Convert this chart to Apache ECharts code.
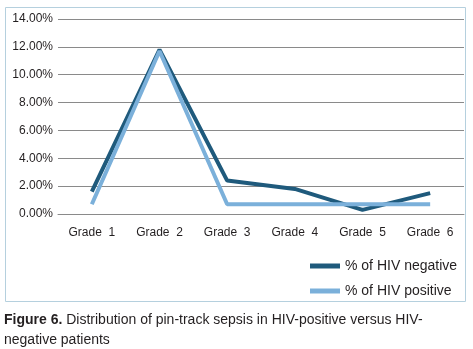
<!DOCTYPE html>
<html>
<head>
<meta charset="utf-8">
<script src="https://cdn.jsdelivr.net/npm/echarts@6/dist/echarts.min.js"></script>
<style>
  html, body { margin: 0; padding: 0; background: #fff; }
  #sepsis-chart { width: 473px; height: 349px; }
</style>
</head>
<body>
<div id="sepsis-chart"></div>
<script>
// values, in percent
const grades = ['Grade  1', 'Grade  2', 'Grade  3', 'Grade  4', 'Grade  5', 'Grade  6']
const hivNegative = [1.6, 11.8, 2.4, 1.8, 0.3, 1.5]
const hivPositive = [0.7, 11.7, 0.7, 0.7, 0.7, 0.7]
const yTicks = [0, 2, 4, 6, 8, 10, 12, 14]

const chart = echarts.init(document.getElementById('sepsis-chart'))
chart.setOption({
  animation: false,
  textStyle: { fontFamily: 'Liberation Sans, Arial, sans-serif' },
  title: {
    left: 4,
    top: 310,
    padding: 0,
    text: '{b|Figure 6.} Distribution of pin-track sepsis in HIV-positive versus HIV-\nnegative patients',
    textStyle: {
      fontSize: 14,
      fontWeight: 'normal',
      color: '#231f20',
      lineHeight: 20,
      rich: {
        b: { fontSize: 14, fontWeight: 'bold', color: '#231f20', lineHeight: 20 }
      }
    }
  },
  graphic: [{
    type: 'rect',
    shape: { x: 5.5, y: 7.5, width: 460, height: 294 },
    style: { fill: 'none', stroke: '#b5d0de', lineWidth: 1 },
    silent: true
  }],
  legend: {
    orient: 'vertical',
    left: 305,
    top: 254,
    itemWidth: 30,
    itemHeight: 5,
    itemGap: 11,
    icon: 'rect',
    textStyle: { fontSize: 14, color: '#231f20' },
    data: ['% of HIV negative', '% of HIV positive']
  },
  grid: { left: 58, right: 9, top: 19, bottom: 135 },
  xAxis: {
    type: 'category',
    data: grades,
    axisLine: { show: true, lineStyle: { color: '#8a8a8a' } },
    axisTick: { show: false },
    axisLabel: { color: '#231f20', fontSize: 12, margin: 13 }
  },
  yAxis: {
    type: 'value',
    min: yTicks[0],
    max: yTicks[yTicks.length - 1],
    interval: 2,
    axisLine: { show: false },
    axisTick: { show: false },
    splitLine: { lineStyle: { color: '#8a8a8a' } },
    axisLabel: {
      color: '#231f20',
      fontSize: 12,
      margin: 5,
      formatter: v => v.toFixed(2) + '%'
    }
  },
  series: [{
    name: '% of HIV negative',
    type: 'line',
    data: hivNegative,
    symbol: 'none',
    color: '#1f5a7c',
    lineStyle: { width: 4 }
  }, {
    name: '% of HIV positive',
    type: 'line',
    data: hivPositive,
    symbol: 'none',
    color: '#7bb0da',
    lineStyle: { width: 4 }
  }]
})
</script>
</body>
</html>
